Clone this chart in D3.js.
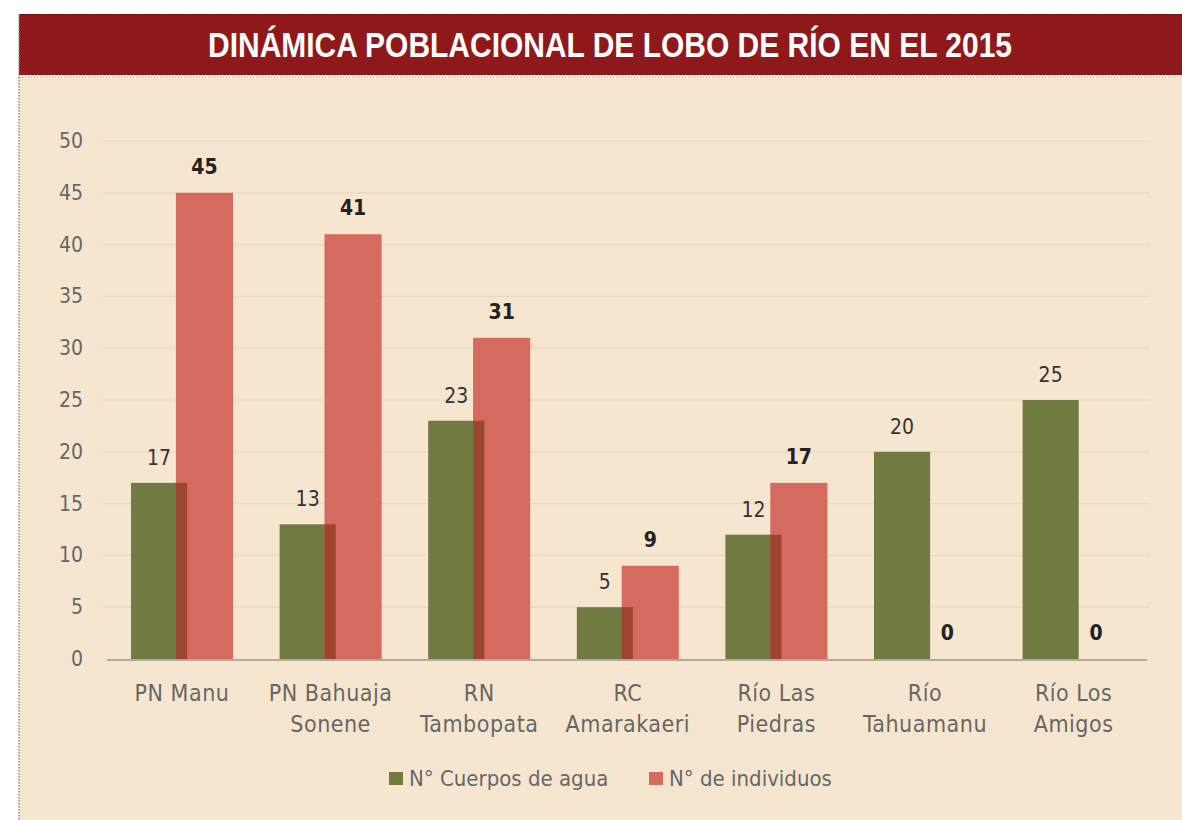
<!DOCTYPE html>
<html lang="es">
  <head>
    <meta charset="UTF-8" />
    <title>Dinámica poblacional de lobo de río 2015</title>
    <script src="https://d3js.org/d3.v7.min.js"></script>
    <style>
      html, body { margin: 0; padding: 0; background: #fff; }
      svg { display: block; }
      text { font-family: "DejaVu Sans Condensed", "Liberation Sans", sans-serif; }
    </style>
  </head>
  <body>
    <svg id="chart" width="1182" height="820"></svg>

    <script>
      // data
      const title = "DINÁMICA POBLACIONAL DE LOBO DE RÍO EN EL 2015";
      const categories = [
        ["PN Manu"],
        ["PN Bahuaja", "Sonene"],
        ["RN", "Tambopata"],
        ["RC", "Amarakaeri"],
        ["Río Las", "Piedras"],
        ["Río", "Tahuamanu"],
        ["Río Los", "Amigos"]
      ];
      const cuerpos = [17, 13, 23, 5, 12, 20, 25];
      const individuos = [45, 41, 31, 9, 17, 0, 0];
      const yTicks = [0, 5, 10, 15, 20, 25, 30, 35, 40, 45, 50];
      const seriesNames = ["N° Cuerpos de agua", "N° de individuos"];

      const green = "#707b42";
      const red = "#d56b5f";
      const overlap = "#a04432";
      const bg = "#f7e6cf";

      const svg = d3.select("#chart");

      // panel
      svg.append("rect").attr("x", 19).attr("y", 78).attr("width", 1163).attr("height", 742).attr("fill", bg);
      svg.append("rect").attr("x", 19).attr("y", 14).attr("width", 1163).attr("height", 61).attr("fill", "#8f181b");
      svg.append("line").attr("x1", 19).attr("x2", 1182).attr("y1", 14.5).attr("y2", 14.5)
        .attr("stroke", "#5a0e10").attr("stroke-width", 1).attr("stroke-dasharray", "2,1");
      svg.append("line").attr("x1", 19).attr("x2", 1182).attr("y1", 77).attr("y2", 77)
        .attr("stroke", "#888").attr("stroke-width", 1.2).attr("stroke-dasharray", "1.5,1.5");
      svg.append("line").attr("x1", 19).attr("x2", 19).attr("y1", 14).attr("y2", 820)
        .attr("stroke", "#888").attr("stroke-width", 1.5).attr("stroke-dasharray", "1.5,1.5");

      svg.append("text")
        .attr("x", 208).attr("y", 57)
        .attr("fill", "#fff")
        .attr("textLength", 804)
        .attr("lengthAdjust", "spacingAndGlyphs")
        .style("font-family", "'Liberation Sans', sans-serif")
        .style("font-size", "35px")
        .style("font-weight", "bold")
        .text(title);

      // scales
      const y = d3.scaleLinear().domain([0, 50]).range([659, 141]);
      const x = d3.scaleBand()
        .domain(d3.range(categories.length))
        .range([131, 1124.6])
        .paddingInner(0.3136)
        .paddingOuter(0);
      const bw = x.bandwidth();
      const gW = bw * 0.55;
      const rX = bw * 0.44;
      const rW = bw * 0.56;

      // grid
      svg.append("g")
        .selectAll("line")
        .data(yTicks.filter((d) => d > 0))
        .join("line")
        .attr("x1", 103).attr("x2", 1150)
        .attr("y1", (d) => y(d)).attr("y2", (d) => y(d))
        .attr("stroke", "#ead8bf")
        .attr("stroke-width", 1.2);

      // y tick labels
      svg.append("g")
        .selectAll("text")
        .data(yTicks)
        .join("text")
        .attr("x", 83)
        .attr("y", (d) => y(d) + 7)
        .attr("text-anchor", "end")
        .attr("fill", "#666")
        .style("font-size", "21px")
        .text((d) => d);

      const groups = svg.append("g")
        .selectAll("g")
        .data(categories.map((c, i) => ({ i, c, a: cuerpos[i], b: individuos[i] })))
        .join("g")
        .attr("transform", (d) => `translate(${x(d.i)},0)`);

      groups.append("rect")
        .attr("x", 0).attr("width", gW)
        .attr("y", (d) => y(d.a))
        .attr("height", (d) => y(0) - y(d.a))
        .attr("fill", green);

      groups.append("rect")
        .attr("x", rX).attr("width", rW)
        .attr("y", (d) => y(d.b))
        .attr("height", (d) => y(0) - y(d.b))
        .attr("fill", red);

      groups.append("rect")
        .attr("x", rX).attr("width", gW - rX)
        .attr("y", (d) => y(Math.min(d.a, d.b)))
        .attr("height", (d) => y(0) - y(Math.min(d.a, d.b)))
        .attr("fill", overlap);

      groups.append("text")
        .attr("x", gW / 2)
        .attr("y", (d) => y(d.a) - 18)
        .attr("text-anchor", "middle")
        .attr("fill", "#333")
        .style("font-size", "21px")
        .text((d) => d.a);

      groups.append("text")
        .attr("x", rX + rW / 2)
        .attr("y", (d) => y(d.b) - 19)
        .attr("text-anchor", "middle")
        .attr("fill", "#222")
        .style("font-size", "21px")
        .style("font-weight", "bold")
        .text((d) => d.b);

      // category labels
      groups.append("text")
        .attr("text-anchor", "middle")
        .attr("fill", "#666")
        .style("font-size", "23px")
        .style("letter-spacing", "0.5px")
        .selectAll("tspan")
        .data((d) => d.c)
        .join("tspan")
        .attr("x", bw / 2)
        .attr("y", (d, j) => 701 + j * 31)
        .text((d) => d);

      // axis line
      svg.append("line")
        .attr("x1", 107).attr("x2", 1147)
        .attr("y1", y(0) + 1).attr("y2", y(0) + 1)
        .attr("stroke", "#b3aa9b")
        .attr("stroke-width", 2);

      // legend
      const legend = svg.append("g").attr("transform", "translate(389,772)");
      const legendX = [0, 260];
      const legendItem = legend.selectAll("g")
        .data(seriesNames)
        .join("g")
        .attr("transform", (d, i) => `translate(${legendX[i]},0)`);
      legendItem.append("rect")
        .attr("width", 14).attr("height", 13)
        .attr("fill", (d, i) => (i === 0 ? green : red));
      legendItem.append("text")
        .attr("x", 20).attr("y", 14)
        .attr("fill", "#666")
        .style("font-size", "22px")
        .text((d) => d);
    </script>
  </body>
</html>
